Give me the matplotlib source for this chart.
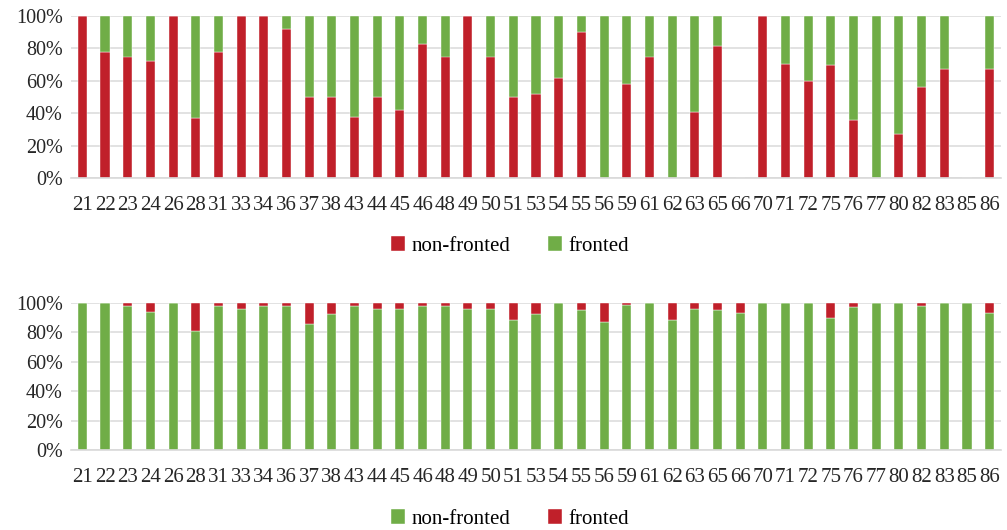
import matplotlib
matplotlib.use("Agg")
import matplotlib.pyplot as plt
import numpy as np
from matplotlib.ticker import FuncFormatter

plt.rcParams['font.family'] = ['Liberation Serif', 'DejaVu Serif']

categories = ["21","22","23","24","26","28","31","33","34","36","37","38","43","44","45",
              "46","48","49","50","51","53","54","55","56","59","61","62","63","65","66",
              "70","71","72","75","76","77","80","82","83","85","86"]

# Top chart: share of non-fronted (rest fronted); None = no data
top_nonfronted = [100, 78, 75, 72, 100, 37, 78, 100, 100, 92, 50, 50, 37.5, 50, 41.7,
                  83, 75, 100, 75, 50, 52, 62, 90, 0, 58, 75, 0, 41, 81.5, None,
                  100, 70.5, 60, 70, 36, 0, 27, 56, 67, None, 67]

# Bottom chart: share of non-fronted (rest fronted)
bottom_nonfronted = [100, 100, 97.7, 94.1, 100, 80.9, 97.7, 96.1, 97.7, 97.7, 85.5, 92.7, 98.2, 95.7, 96.1,
                     97.7, 98, 95.7, 96.1, 88.6, 92.7, 100, 95.2, 87, 98.9, 100, 88.2, 96.1, 95, 93.4,
                     100, 100, 100, 89.5, 97, 100, 100, 97.7, 100, 100, 93.2]

RED = "#C0202A"
GREEN = "#70AD47"

fig = plt.figure(figsize=(10.07, 5.30), dpi=100)
W, H = 1007, 530
ax1 = fig.add_axes([71/W, 1-178/H, 930/W, 162/H])
ax2 = fig.add_axes([71/W, 1-450/H, 930/W, 147/H])

x = np.arange(len(categories))
bw = 0.4

def style(ax):
    ax.set_ylim(0, 100)
    ax.set_xlim(-0.5, len(categories)-0.5)
    ax.set_yticks(np.arange(0, 101, 20))
    ax.yaxis.set_major_formatter(FuncFormatter(lambda v, p: f"{int(v)}%"))
    ax.grid(axis='y', color='#DDDDDD', linewidth=1.2)
    ax.set_axisbelow(True)
    for s in ['top', 'right', 'left']:
        ax.spines[s].set_visible(False)
    ax.spines['bottom'].set_color('#D9D9D9')
    ax.spines['bottom'].set_linewidth(1.2)
    ax.tick_params(axis='both', length=0, labelsize=14.5, colors='#262626')
    ax.tick_params(axis='y', pad=6)
    ax.tick_params(axis='x', pad=13, labelsize=15)
    ax.set_xticks(x)
    ax.set_xticklabels(categories)

# Top
nf = np.array([v if v is not None else 0 for v in top_nonfronted], dtype=float)
fr = np.array([100 - v if v is not None else 0 for v in top_nonfronted], dtype=float)
ax1.bar(x, nf, bw, color=RED, label='non-fronted', edgecolor='white', linewidth=0.3)
ax1.bar(x, fr, bw, bottom=nf, color=GREEN, label='fronted', edgecolor='white', linewidth=0.3)
style(ax1)
ax1.legend(loc='center', bbox_to_anchor=(510/W, 1-246/H), bbox_transform=fig.transFigure,
           ncol=2, frameon=False, fontsize=15, handlelength=0.7, handleheight=0.7,
           handletextpad=0.3, columnspacing=1.8)

# Bottom
bnf = np.array(bottom_nonfronted, dtype=float)
bfr = 100 - bnf
ax2.bar(x, bnf, bw, color=GREEN, label='non-fronted', edgecolor='white', linewidth=0.3)
ax2.bar(x, bfr, bw, bottom=bnf, color=RED, label='fronted', edgecolor='white', linewidth=0.3)
style(ax2)
ax2.legend(loc='center', bbox_to_anchor=(510/W, 1-519/H), bbox_transform=fig.transFigure,
           ncol=2, frameon=False, fontsize=15, handlelength=0.7, handleheight=0.7,
           handletextpad=0.3, columnspacing=1.8)

fig.savefig("out.png", dpi=100, facecolor='white')
